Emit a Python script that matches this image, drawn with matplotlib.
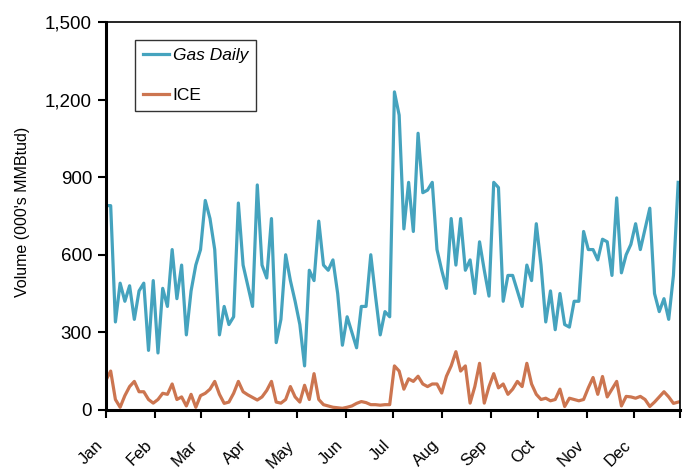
import numpy as np
import pandas as pd
import matplotlib
matplotlib.use("Agg")
import matplotlib.pyplot as plt
from matplotlib.ticker import FuncFormatter

plt.rcParams['font.family'] = ['Liberation Sans', 'DejaVu Sans']

# volumes read every 3 days from Jan 1 (000's MMBtu/d)
gas_daily = [790, 790, 340, 490, 420, 480, 350, 460, 490, 230,
             500, 220, 470, 400, 620, 430, 560, 290, 460, 560,
             620, 810, 740, 620, 290, 400, 330, 360, 800, 560,
             480, 400, 870, 560, 510, 740, 260, 350, 600, 500,
             420, 330, 170, 540, 500, 730, 560, 540, 580, 450,
             250, 360, 300, 240, 400, 400, 600, 440, 290, 380,
             360, 1230, 1140, 700, 880, 690, 1070, 840, 850, 880,
             620, 540, 470, 740, 560, 740, 540, 580, 450, 650,
             540, 440, 880, 860, 420, 520, 520, 460, 400, 560,
             500, 720, 560, 340, 460, 310, 450, 330, 320, 420,
             420, 690, 620, 620, 580, 660, 650, 520, 820, 530,
             600, 640, 720, 620, 700, 780, 450, 380, 430, 350,
             520, 880]
ice = [115, 150, 40, 10, 55, 90, 110, 70, 70, 40,
       26, 40, 64, 60, 100, 40, 50, 15, 60, 10,
       55, 64, 80, 110, 60, 25, 30, 64, 110, 70,
       58, 48, 38, 50, 75, 110, 30, 26, 40, 90,
       50, 30, 95, 40, 140, 40, 20, 15, 10, 8,
       6, 10, 15, 25, 32, 28, 20, 20, 18, 20,
       20, 170, 150, 80, 120, 110, 130, 100, 90, 100,
       100, 65, 130, 170, 225, 150, 170, 26, 90, 180,
       26, 90, 140, 85, 100, 60, 80, 110, 90, 180,
       100, 60, 40, 45, 35, 40, 80, 13, 45, 40,
       35, 40, 85, 125, 60, 129, 50, 80, 110, 15,
       52, 50, 45, 52, 40, 13, 30, 50, 70, 50,
       25, 30]
months = ['Jan', 'Feb', 'Mar', 'Apr', 'May', 'Jun',
          'Jul', 'Aug', 'Sep', 'Oct', 'Nov', 'Dec']

dates = pd.date_range('2008-01-01', periods=len(gas_daily), freq='3D')

fig = plt.figure(figsize=(6.88, 4.70), dpi=100)
ax = fig.add_axes([0.154, 0.128, 0.834, 0.825])

ax.plot(dates, gas_daily, color='#45A3BE', lw=2.3, label='Gas Daily')
ax.plot(dates, ice, color='#CC7550', lw=2.3, label='ICE')

ax.set_ylim(0, 1500)
ax.set_yticks(np.arange(0, 1501, 300))
ax.yaxis.set_major_formatter(FuncFormatter(lambda v, p: f'{int(v):,}'))
ax.set_xlim(pd.Timestamp('2008-01-01'), pd.Timestamp('2008-12-30'))
ticks = list(pd.date_range('2008-01-01', '2008-12-01', freq='MS')) + [pd.Timestamp('2008-12-30')]
ax.set_xticks(ticks)
ax.set_xticklabels(months + [''], rotation=45, ha='right', fontsize=12)
ax.tick_params(axis='y', labelsize=13.5, width=1.5, length=6, direction='out', pad=4)
ax.tick_params(axis='x', width=1.5, length=6, direction='out', pad=14)

for s in ['left', 'bottom']:
    ax.spines[s].set_linewidth(2.2)
for s in ['top', 'right']:
    ax.spines[s].set_linewidth(1.2)

ax.set_ylabel("Volume (000's MMBtud)", fontsize=11.5)
ax.yaxis.set_label_coords(-0.133, 0.51)

leg = ax.legend(loc='upper left', bbox_to_anchor=(0.051, 0.953), fontsize=12.5,
                frameon=True, fancybox=False, edgecolor='black',
                handlelength=1.5, handletextpad=0.2, labelspacing=1.4,
                borderpad=0.45, borderaxespad=0)
leg.get_frame().set_linewidth(1.0)
leg.get_texts()[0].set_fontstyle('italic')

fig.savefig('out.png', dpi=100)
